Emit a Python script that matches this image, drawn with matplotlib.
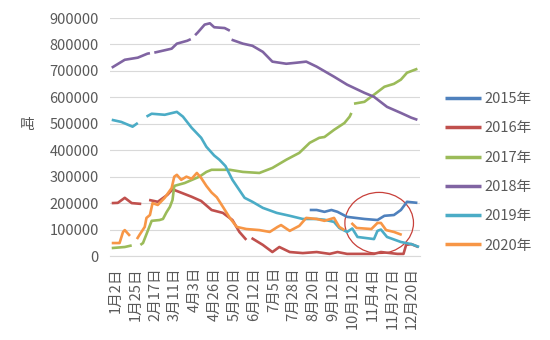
import numpy as np
import matplotlib
matplotlib.use("Agg")
import matplotlib.pyplot as plt
from matplotlib.patches import Ellipse

plt.rcParams['font.family'] = ['Noto Sans CJK SC', 'DejaVu Sans']

nan = np.nan

tick_labels = ['1月2日', '1月25日', '2月17日', '3月11日', '4月3日', '4月26日', '5月20日',
               '6月12日', '7月5日', '7月28日', '8月20日', '9月12日', '10月12日', '11月4日',
               '11月27日', '12月20日']

# day index within the year, stock in thousand tonnes (nan = gap in the record)
d2015 = [228, 236, 245, 253, 260, 271, 291, 306, 314, 325, 333, 340, 352]
v2015 = [174, 174, 167, 174, 167, 148, 140, 136, 152, 155, 174, 205, 201]

d2016 = [0, 7, 15, 23, 34, 38, 43, 53, 64, 70, 78, 92, 103, 115, 128, 139, 147, 155, 158,
         161, 174, 185, 193, 205, 220, 236, 251, 260, 271, 302, 310, 329, 336, 339, 345, 353]
v2016 = [200, 201, 220, 200, 197, nan, 212, 205, 231, 252, 242, 224, 208, 174, 163, 136, 91, 61, nan,
         68, 42, 15, 34, 15, 11, 15, 8, 15, 8, 8, 15, 8, 8, 42, 45, 34]

d2017 = [0, 15, 23, 28, 33, 36, 41, 46, 55, 59, 63, 67, 70, 72, 84, 101, 109, 115, 136, 151,
         170, 185, 201, 216, 228, 239, 245, 256, 268, 274, 276, 277, 279, 291, 302, 314, 325,
         333, 340, 352]
v2017 = [30, 34, 40, nan, 42, 49, 91, 133, 136, 140, 165, 186, 212, 265, 276, 300, 318, 326, 326, 318,
         314, 333, 364, 390, 428, 447, 450, 477, 503, 527, 541, nan, 576, 583, 610, 640, 651,
         667, 693, 708]

d2018 = [0, 15, 30, 41, 44, 46, 49, 69, 75, 87, 91, 93, 96, 99, 107, 113, 118, 130, 136, 137,
         138, 151, 162, 174, 185, 201, 213, 224, 236, 256, 271, 291, 302, 317, 333, 345, 352]
v2018 = [712, 742, 750, 765, 767, nan, 769, 784, 803, 814, 820, nan, 835, 845, 875, 880, 865, 862, 852, nan,
         818, 803, 795, 772, 735, 727, 731, 735, 716, 678, 648, 617, 602, 564, 541, 523, 515]

d2019 = [0, 11, 24, 30, 35, 40, 46, 61, 75, 82, 92, 103, 109, 118, 124, 131, 139, 153, 162,
         174, 190, 205, 220, 236, 245, 256, 262, 271, 277, 283, 302, 306, 310, 317, 333, 345, 354]
v2019 = [515, 507, 489, 503, nan, 527, 538, 534, 545, 527, 485, 447, 413, 380, 364, 340, 288, 220, 205,
         182, 163, 152, 140, 140, 137, 129, 106, 91, 104, 72, 64, 95, 100, 72, 53, 45, 34]

d2020 = [0, 9, 13, 15, 21, 25, 29, 32, 38, 40, 44, 47, 53, 61, 69, 72, 75, 80, 86, 92, 98,
         103, 109, 115, 121, 128, 136, 144, 155, 170, 182, 191, 195, 205, 216, 224, 236, 245,
         256, 262, 268, 272, 276, 282, 299, 306, 310, 316, 325, 334]
v2020 = [49, 49, 91, 98, 76, nan, 64, 80, 110, 144, 155, 200, 193, 220, 257, 300, 307, 288, 300, 292, 314,
         295, 265, 240, 222, 186, 144, 110, 102, 98, 91, 110, 117, 95, 114, 144, 140, 133,
         144, 110, 98, nan, 125, 106, 102, 125, 125, 98, 91, 80]

series = [
    ('2015年', d2015, v2015, '#4F81BD'),
    ('2016年', d2016, v2016, '#C0504D'),
    ('2017年', d2017, v2017, '#9BBB59'),
    ('2018年', d2018, v2018, '#8064A2'),
    ('2019年', d2019, v2019, '#4BACC6'),
    ('2020年', d2020, v2020, '#F79646'),
]

grey = '#595959'

fig = plt.figure(figsize=(5.5, 3.4), dpi=100)
ax = fig.add_axes([110 / 550, 1 - 256 / 340, 310 / 550, 238 / 340])

for name, d, v, c in series:
    ax.plot(d, np.array(v) * 1000, color=c, lw=1.9, label=name, solid_capstyle='butt')

# highlight of the autumn period
ax.add_patch(Ellipse((308, 125000), 79, 231000, fill=False, edgecolor='#C8403A', lw=0.9))

ax.set_xlim(-2, 355)
ax.set_ylim(0, 900000)
ax.set_yticks(np.arange(0, 900001, 100000))
ax.set_yticklabels([str(v) for v in range(0, 900001, 100000)])
ax.set_xticks(np.linspace(4.6, 345.8, 16))
ax.set_xticklabels(tick_labels, rotation=90)
ax.tick_params(axis='both', length=0, labelsize=10.5, colors=grey, pad=8)
ax.grid(axis='y', color='#d9d9d9', lw=0.8)
ax.set_axisbelow(True)
for s in ['top', 'right', 'left']:
    ax.spines[s].set_visible(False)
ax.spines['bottom'].set_color('#d9d9d9')

fig.text(27 / 550, 1 - 125 / 340, '吨', fontsize=10.5, color=grey, ha='center', va='center')

leg = ax.legend(loc='upper left', bbox_to_anchor=(445 / 550, 1 - 92 / 340),
                bbox_transform=fig.transFigure, frameon=False, fontsize=10.5,
                handlelength=2.5, handletextpad=0.2, labelspacing=1.05, borderpad=0,
                borderaxespad=0)
for t in leg.get_texts():
    t.set_color(grey)
for h in leg.legend_handles:
    h.set_linewidth(2.5)

fig.savefig('out.png', dpi=100)
